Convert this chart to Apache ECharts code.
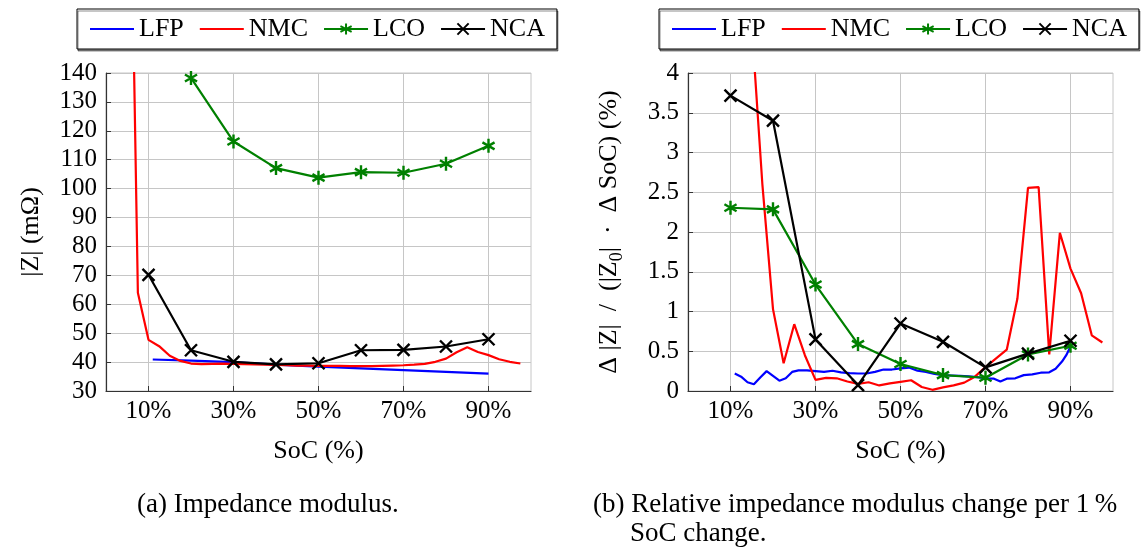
<!DOCTYPE html>
<html><head><meta charset="utf-8">
<script src="https://cdn.jsdelivr.net/npm/echarts@6/dist/echarts.min.js"></script>
<style>html,body{margin:0;padding:0;background:#fff}#c{width:1145px;height:550px}</style>
</head><body><div id="c"></div>
<script>
// ---------- data ----------
const seriesNames = ['LFP', 'NMC', 'LCO', 'NCA'];
const xTickValues = [10, 30, 50, 70, 90];

// (a) impedance modulus |Z| (mΩ)
const socLFP_a = [11, 20, 30, 40, 50, 60, 70, 80, 90];
const zLFP = [40.9, 40.5, 40.0, 39.1, 38.4, 37.8, 37.2, 36.6, 36.0];
const socNMC_a = [5, 7.5, 10, 12.5, 15, 17.5, 20, 22.5, 25, 27.5, 30, 32.5, 35, 37.5, 40, 42.5, 45, 47.5, 50, 52.5, 55, 57.5, 60, 62.5, 65, 67.5, 70, 72.5, 75, 77.5, 80, 82.5, 85, 87.5, 90, 92.5, 95, 97.5];
const zNMC = [280, 64, 47.7, 45.5, 42.2, 40.4, 39.5, 39.3, 39.4, 39.5, 39.4, 39.3, 39.2, 39.1, 39.0, 38.9, 38.8, 38.8, 38.7, 38.7, 38.7, 38.6, 38.6, 38.6, 38.7, 38.8, 38.9, 39.1, 39.4, 40.1, 41.2, 43.4, 45.1, 43.5, 42.4, 41.0, 40.1, 39.5];
const socLCO_a = [20, 30, 40, 50, 60, 70, 80, 90];
const zLCO = [138.3, 116.3, 107.1, 103.8, 105.7, 105.5, 108.6, 114.8];
const socNCA_a = [10, 20, 30, 40, 50, 60, 70, 80, 90];
const zNCA = [70.2, 44.1, 40.1, 39.2, 39.6, 44.1, 44.2, 45.4, 47.9];

// (b) relative impedance modulus change per 1 % SoC (%)
const socLFP_b = [11, 12.5, 14, 15.5, 17, 18.5, 20, 21.5, 23, 24.5, 26, 28, 30, 32, 34, 36, 38, 40, 42, 44, 46, 48, 50, 52, 54, 56, 58, 60, 62, 64, 66, 68, 70, 72, 73.5, 75, 77, 79, 81, 83, 85, 86.5, 88, 89, 90];
const dLFP = [0.22, 0.18, 0.11, 0.085, 0.17, 0.25, 0.19, 0.13, 0.16, 0.24, 0.26, 0.26, 0.25, 0.24, 0.255, 0.235, 0.225, 0.22, 0.22, 0.24, 0.27, 0.27, 0.285, 0.295, 0.255, 0.24, 0.215, 0.2, 0.195, 0.19, 0.185, 0.175, 0.16, 0.155, 0.12, 0.155, 0.16, 0.2, 0.21, 0.23, 0.235, 0.28, 0.37, 0.45, 0.56];
const socNMC_b = [15, 17.5, 20, 22.5, 25, 27.5, 30, 32.5, 35, 37.5, 40, 42.5, 45, 47.5, 50, 52.5, 55, 57.5, 60, 62.5, 65, 67.5, 70, 72.5, 75, 77.5, 80, 82.5, 85, 87.5, 90, 92.5, 95, 97.5];
const dNMC = [4.6, 2.6, 1.03, 0.35, 0.84, 0.45, 0.14, 0.165, 0.16, 0.12, 0.09, 0.11, 0.07, 0.095, 0.115, 0.135, 0.05, 0.015, 0.045, 0.07, 0.105, 0.18, 0.3, 0.41, 0.52, 1.16, 2.555, 2.565, 0.46, 1.99, 1.54, 1.23, 0.70, 0.61];
const socLCO_b = [10, 20, 30, 40, 50, 60, 70, 80, 90];
const dLCO = [2.305, 2.285, 1.339, 0.59, 0.339, 0.2, 0.167, 0.46, 0.569];
const socNCA_b = [10, 20, 30, 40, 50, 60, 70, 80, 90];
const dNCA = [3.715, 3.40, 0.649, 0.075, 0.849, 0.619, 0.297, 0.47, 0.632];

// ---------- styling ----------
const FONT = 'Liberation Serif';
const GRIDC = '#c6c6c6';
const AXC = '#333';
const colors = { LFP: '#0000ff', NMC: '#ff0000', LCO: '#008000', NCA: '#000000' };
const symAsterisk = 'path://M0,-1L0,1M-0.866,-0.5L0.866,0.5M-0.866,0.5L0.866,-0.5';
const symCross = 'path://M-1,-1L1,1M-1,1L1,-1';
const markerSize = { LCO: 14, NCA: 12 };

function zip(xs, ys) { return xs.map((x, i) => [x, ys[i]]); }

function xAxis(gi) {
  return {
    type: 'value', gridIndex: gi, min: 0, max: 100,
    name: 'SoC (%)', nameLocation: 'middle', nameGap: 47,
    nameTextStyle: { fontFamily: FONT, fontSize: 26, color: '#000' },
    axisLine: { show: true, onZero: false, lineStyle: { color: AXC, width: 1.2 } },
    axisTick: { show: true, inside: true, length: 5, customValues: xTickValues, lineStyle: { color: AXC } },
    axisLabel: { customValues: xTickValues, formatter: v => v + '%', margin: 8, fontFamily: FONT, fontSize: 25, color: '#000' },
    splitLine: { show: true, lineStyle: { color: GRIDC, width: 1 } }
  };
}
function yAxis(gi, min, max, interval, name, rich) {
  return {
    type: 'value', gridIndex: gi, min: min, max: max, interval: interval,
    name: name, nameLocation: 'middle', nameGap: 62,
    nameTextStyle: Object.assign({ fontFamily: FONT, fontSize: 26, color: '#000' }, rich ? { rich: rich } : {}),
    axisLine: { show: true, onZero: false, lineStyle: { color: AXC, width: 1.2 } },
    axisTick: { show: true, inside: true, length: 5, lineStyle: { color: AXC } },
    axisLabel: { margin: 9, fontFamily: FONT, fontSize: 25, color: '#000' },
    splitLine: { show: true, lineStyle: { color: GRIDC, width: 1 } }
  };
}
function lineSeries(name, gi, data, symbol) {
  return {
    name: name, type: 'line', xAxisIndex: gi, yAxisIndex: gi, data: data,
    color: colors[name], clip: true, animation: false,
    lineStyle: { color: colors[name], width: 2.2 },
    symbol: symbol || 'none', symbolSize: markerSize[name] || 12, symbolKeepAspect: true,
    itemStyle: { color: colors[name], borderColor: colors[name], borderWidth: 2.4 },
    z: name === 'NCA' ? 5 : (name === 'LCO' ? 4 : 3)
  };
}
function legend(left) {
  return {
    data: [
      { name: 'LFP', itemStyle: { opacity: 0 } },
      { name: 'NMC', itemStyle: { opacity: 0 } },
      { name: 'LCO' },
      { name: 'NCA' }
    ],
    left: left, top: 9, orient: 'horizontal',
    itemWidth: 44, itemHeight: 14, itemGap: 15,
    padding: [7, 12, 7, 12],
    borderColor: '#000', borderWidth: 1, backgroundColor: '#fff',
    shadowColor: 'rgba(0,0,0,0.45)', shadowOffsetX: 1, shadowOffsetY: 2, shadowBlur: 0,
    textStyle: { fontFamily: FONT, fontSize: 26, color: '#000' },
    selectedMode: false
  };
}

const chart = echarts.init(document.getElementById('c'), null, { renderer: 'canvas' });
chart.setOption({
  animation: false,
  backgroundColor: '#fff',
  legend: [legend(77), legend(659)],
  grid: [
    { left: 106, top: 73, width: 425, height: 318, show: true, borderColor: GRIDC, borderWidth: 1, containLabel: false },
    { left: 688, top: 73, width: 425, height: 318, show: true, borderColor: GRIDC, borderWidth: 1, containLabel: false }
  ],
  xAxis: [xAxis(0), xAxis(1)],
  yAxis: [
    yAxis(0, 30, 140, 10, '|Z| (mΩ)'),
    yAxis(1, 0, 4, 0.5, '{a|Δ |Z|  /  (|Z}{s|0}{a||  ·  Δ SoC) (%)}', {
      a: { fontFamily: FONT, fontSize: 26, color: '#000', lineHeight: 34 },
      s: { fontFamily: FONT, fontSize: 18, color: '#000', lineHeight: 18, verticalAlign: 'bottom' }
    })
  ],
  series: [
    lineSeries('LFP', 0, zip(socLFP_a, zLFP)),
    lineSeries('NMC', 0, zip(socNMC_a, zNMC)),
    lineSeries('LCO', 0, zip(socLCO_a, zLCO), symAsterisk),
    lineSeries('NCA', 0, zip(socNCA_a, zNCA), symCross),
    lineSeries('LFP', 1, zip(socLFP_b, dLFP)),
    lineSeries('NMC', 1, zip(socNMC_b, dNMC)),
    lineSeries('LCO', 1, zip(socLCO_b, dLCO), symAsterisk),
    lineSeries('NCA', 1, zip(socNCA_b, dNCA), symCross)
  ],
  graphic: [
    { type: 'text', left: 137, top: 491, style: { text: '(a) Impedance modulus.', font: '27px "Liberation Serif"', fill: '#000' } },
    { type: 'text', left: 593, top: 491, style: { text: '(b) Relative impedance modulus change per 1\u2009%', font: '27px "Liberation Serif"', fill: '#000' } },
    { type: 'text', left: 630, top: 520, style: { text: 'SoC change.', font: '27px "Liberation Serif"', fill: '#000' } }
  ]
});
</script>
</body></html>
